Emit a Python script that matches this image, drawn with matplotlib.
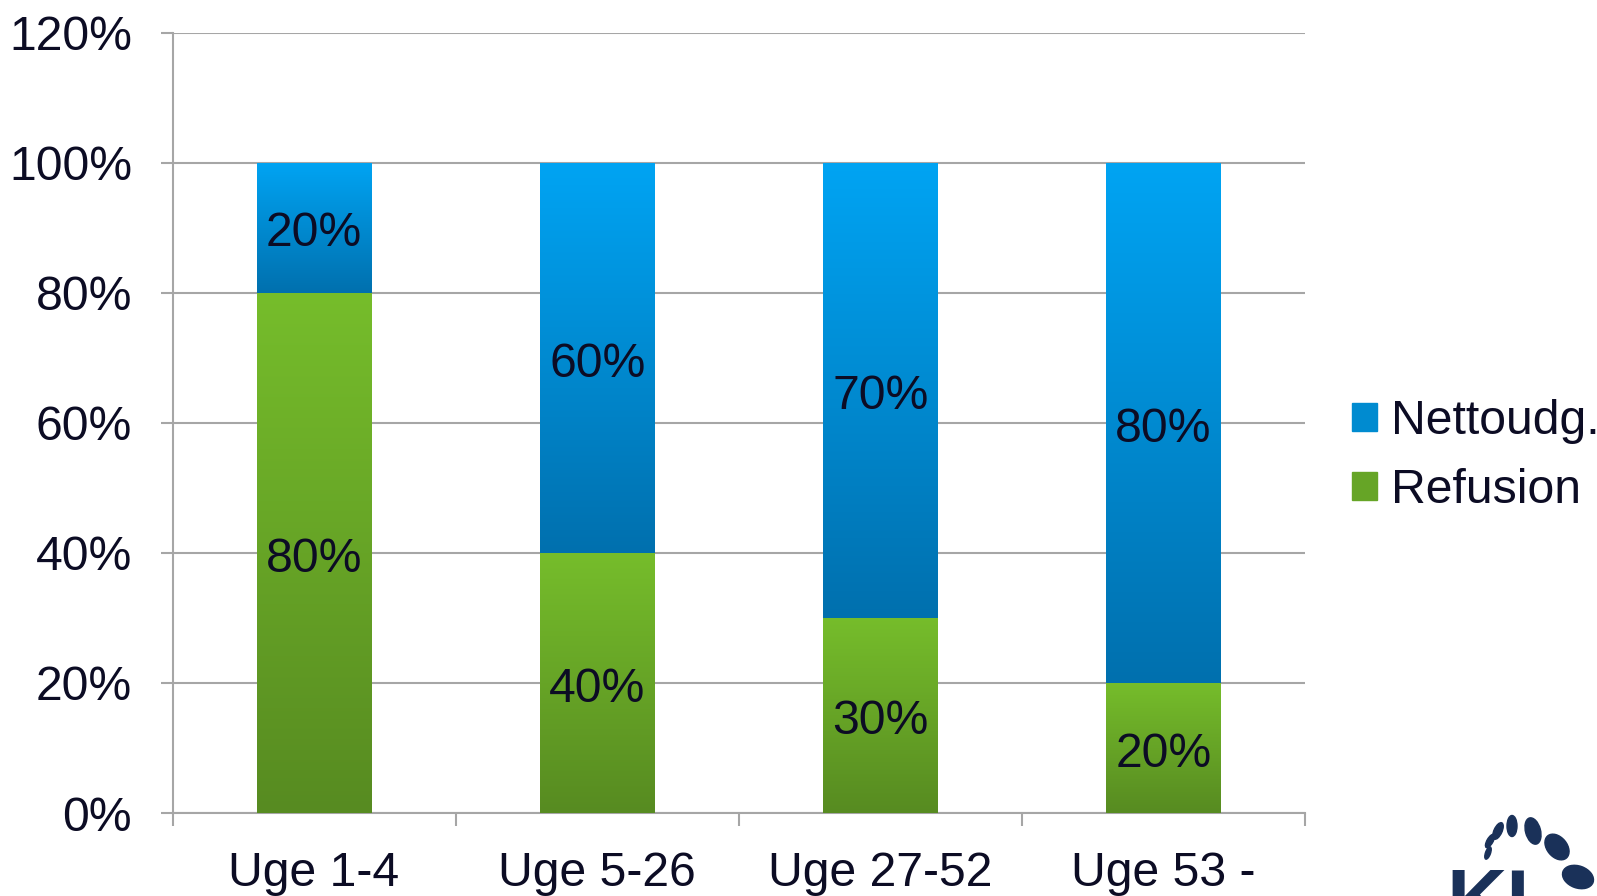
import numpy as np
import matplotlib
matplotlib.use("Agg")
import matplotlib.pyplot as plt
from matplotlib.colors import LinearSegmentedColormap
from matplotlib.patches import Rectangle, Ellipse

plt.rcParams['font.family'] = ['Liberation Sans', 'DejaVu Sans']

categories = ["Uge 1-4", "Uge 5-26", "Uge 27-52", "Uge 53 -"]
refusion = [80, 40, 30, 20]
nettoudg = [20, 60, 70, 80]
y_ticks = [0, 20, 40, 60, 80, 100, 120]

text_col = "#0c0c24"
grid_col = "#a6a6a6"
blue_top, blue_bot = "#00a4f3", "#0070ae"
green_top, green_bot = "#76bd2b", "#578b21"
fs = 34.7

W, H = 1597, 896
fig = plt.figure(figsize=(W / 100, H / 100), dpi=100)
ax = fig.add_axes([172.5 / W, 1 - 813 / H, (1305 - 172.5) / W, (813 - 32.6) / H])

x = np.arange(len(categories))
width = 0.406
bars_r = ax.bar(x, refusion, width, color=green_bot, label="Refusion", zorder=2)
bars_n = ax.bar(x, nettoudg, width, bottom=refusion, color=blue_bot,
                label="Nettoudg.", zorder=2)

# vertical gradient inside every segment, light on top
def fill_gradient(bars, top, bot):
    cmap = LinearSegmentedColormap.from_list("g", [bot, top])
    grad = np.linspace(0, 1, 256).reshape(-1, 1)
    for b in bars:
        x0, y0 = b.get_x(), b.get_y()
        w, h = b.get_width(), b.get_height()
        im = ax.imshow(grad, cmap=cmap, origin="lower", aspect="auto",
                       extent=[x0, x0 + w, y0, y0 + h], zorder=3)
        im.set_clip_path(b)

fill_gradient(bars_r, green_top, green_bot)
fill_gradient(bars_n, blue_top, blue_bot)

for i in range(len(categories)):
    ax.annotate(f"{refusion[i]}%", (x[i], refusion[i] / 2), xytext=(0, -4.5),
                textcoords="offset points", ha="center", va="center",
                fontsize=fs, color=text_col, zorder=4)
    ax.annotate(f"{nettoudg[i]}%", (x[i], refusion[i] + nettoudg[i] / 2),
                xytext=(0, -4.5), textcoords="offset points", ha="center",
                va="center", fontsize=fs, color=text_col, zorder=4)

ax.set_xlim(-0.5, len(categories) - 0.5)
ax.set_ylim(0, 120)
ax.set_yticks(y_ticks)
ax.set_yticklabels([f"{v}%" for v in y_ticks])
ax.set_xticks(x)
ax.set_xticklabels(categories)
ax.set_xticks(np.arange(len(categories) + 1) - 0.5, minor=True)
ax.tick_params(axis="x", which="major", length=0, pad=27, labelsize=fs,
               labelcolor=text_col)
ax.tick_params(axis="x", which="minor", length=9, width=1.5, color=grid_col,
               direction="out")
ax.tick_params(axis="y", length=9, width=1.5, color=grid_col, pad=20,
               labelsize=fs, labelcolor=text_col)
ax.grid(axis="y", color=grid_col, linewidth=1.5, zorder=0)
ax.set_axisbelow(True)
for s in ["top", "right"]:
    ax.spines[s].set_visible(False)
for s in ["left", "bottom"]:
    ax.spines[s].set_color(grid_col)
    ax.spines[s].set_linewidth(1.5)

h_n = Rectangle((0, 0), 1, 1, color="#008bd0")
h_r = Rectangle((0, 0), 1, 1, color="#66a526")
fig.legend([h_n, h_r], ["Nettoudg.", "Refusion"], loc="center left",
           bbox_to_anchor=(1352 / W, 1 - 456 / H), frameon=False,
           fontsize=fs, labelcolor=text_col, handlelength=0.52,
           handleheight=0.52, handletextpad=0.28, labelspacing=0.49,
           borderaxespad=0, borderpad=0)

# partial logo in the bottom right corner
ov = fig.add_axes([0, 0, 1, 1], zorder=-1)
ov.set_xlim(0, W)
ov.set_ylim(H, 0)
ov.axis("off")
navy = "#1a3159"
ov.text(1446, 928, "KL", fontsize=60, fontweight="bold", color=navy,
        ha="left", va="baseline")
marks = [((1488, 853), 5, 13, 20), ((1490, 841), 6, 15, 30),
         ((1498, 831), 8, 18, 25), ((1512, 826), 10, 21, 0),
         ((1533, 831), 15, 27, -15), ((1557, 847), 20, 29, -40),
         ((1578, 877), 22, 32, -70)]
for c, w, h, a in marks:
    ov.add_patch(Ellipse(c, w, h, angle=a, color=navy))

fig.savefig("out.png", dpi=100)
